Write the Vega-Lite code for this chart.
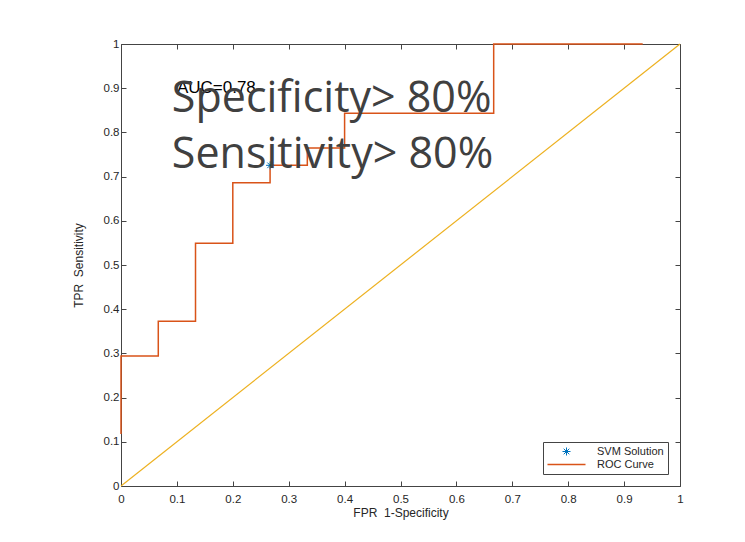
{
  "$schema": "https://vega.github.io/schema/vega-lite/v6.json",
  "width": 559,
  "height": 442,
  "autosize": {"type": "none"},
  "padding": {"left": 121, "top": 44, "right": 65, "bottom": 56},
  "background": "white",
  "config": {
    "view": {"stroke": null},
    "font": "Liberation Sans",
    "axis": {
      "grid": false,
      "domainColor": "#444444",
      "domainWidth": 1,
      "tickColor": "#444444",
      "tickWidth": 1,
      "tickSize": -5,
      "labelFlush": false,
      "labelFont": "Liberation Sans",
      "labelFontSize": 11.5,
      "labelColor": "#262626",
      "titleFont": "Liberation Sans",
      "titleFontSize": 12,
      "titleFontWeight": "normal",
      "titleColor": "#262626"
    }
  },
  "datasets": {
    "roc": [
      {"fpr": 0, "tpr": 0.1176, "k": 0},
      {"fpr": 0, "tpr": 0.2941, "k": 1},
      {"fpr": 0.0667, "tpr": 0.3725, "k": 2},
      {"fpr": 0.1333, "tpr": 0.549, "k": 3},
      {"fpr": 0.2, "tpr": 0.6863, "k": 4},
      {"fpr": 0.2667, "tpr": 0.7255, "k": 5},
      {"fpr": 0.3333, "tpr": 0.7647, "k": 6},
      {"fpr": 0.4, "tpr": 0.8431, "k": 7},
      {"fpr": 0.6667, "tpr": 1, "k": 8},
      {"fpr": 0.9333, "tpr": 1, "k": 9}
    ],
    "diag": [
      {"fpr": 0, "tpr": 0},
      {"fpr": 1, "tpr": 1}
    ],
    "svm": [
      {"fpr": 0.2667, "tpr": 0.7255}
    ],
    "auc": [
      {"fpr": 0.1, "tpr": 0.9, "label": "AUC=0.78"}
    ],
    "big": [
      {"fpr": 0.091, "tpr": 0.846, "label": "Specificity> 80%"},
      {"fpr": 0.091, "tpr": 0.719, "label": "Sensitivity> 80%"}
    ]
  },
  "resolve": {"axis": {"x": "independent", "y": "independent"}},
  "layer": [
    {
      "data": {"name": "diag"},
      "mark": {"type": "line", "color": "#EDB120", "strokeWidth": 1.2},
      "encoding": {
        "x": {"field": "fpr", "type": "quantitative", "scale": {"domain": [0, 1], "nice": false},
          "axis": {"orient": "top", "labels": false, "title": null, "values": [0,0.1,0.2,0.3,0.4,0.5,0.6,0.7,0.8,0.9,1]}},
        "y": {"field": "tpr", "type": "quantitative", "scale": {"domain": [0, 1], "nice": false},
          "axis": {"orient": "right", "labels": false, "title": null, "values": [0,0.1,0.2,0.3,0.4,0.5,0.6,0.7,0.8,0.9,1]}}
      }
    },
    {
      "data": {"name": "roc"},
      "mark": {"type": "line", "interpolate": "step-after", "strokeWidth": 1.5},
      "encoding": {
        "x": {"field": "fpr", "type": "quantitative",
          "axis": {"orient": "bottom", "title": "FPR \u00a01-Specificity", "format": "~g", "labelPadding": 12, "titlePadding": 3, "values": [0,0.1,0.2,0.3,0.4,0.5,0.6,0.7,0.8,0.9,1]}},
        "y": {"field": "tpr", "type": "quantitative",
          "axis": {"orient": "left", "title": "TPR \u00a0Sensitivity", "format": "~g", "labelPadding": 7, "titlePadding": 18, "values": [0,0.1,0.2,0.3,0.4,0.5,0.6,0.7,0.8,0.9,1]}},
        "order": {"field": "k", "type": "quantitative"},
        "color": {"datum": "ROC Curve", "type": "nominal",
          "scale": {"domain": ["SVM Solution", "ROC Curve"], "range": ["#0072BD", "#D95319"]},
          "legend": {
            "title": null,
            "orient": "bottom-right",
            "offset": 12,
            "padding": 4,
            "strokeColor": "#444444",
            "fillColor": "white",
            "labelFont": "Liberation Sans",
            "labelFontSize": 11,
            "labelColor": "#262626",
            "labelOffset": 25,
            "symbolOffset": 14,
            "rowPadding": 0,
            "symbolStrokeWidth": 1.5,
            "encode": {
              "symbols": {
                "update": {
                  "shape": {"signal": "datum.value === 'ROC Curve' ? 'stroke' : 'M0,-1L0,1M-1,0L1,0M-0.7,-0.7L0.7,0.7M-0.7,0.7L0.7,-0.7'"},
                  "size": {"signal": "datum.value === 'ROC Curve' ? 1444 : 64"},
                  "fill": {"value": "transparent"},
                  "strokeWidth": {"signal": "datum.value === 'ROC Curve' ? 1.5 : 1"}
                }
              }
            }
          }
        }
      }
    },
    {
      "data": {"name": "svm"},
      "mark": {"type": "point", "shape": "M0,-1L0,1M-1,0L1,0M-0.7,-0.7L0.7,0.7M-0.7,0.7L0.7,-0.7", "filled": false, "size": 64, "strokeWidth": 1, "opacity": 1},
      "encoding": {
        "x": {"field": "fpr", "type": "quantitative", "axis": null},
        "y": {"field": "tpr", "type": "quantitative", "axis": null},
        "color": {"datum": "SVM Solution", "type": "nominal"}
      }
    },
    {
      "data": {"name": "auc"},
      "mark": {"type": "text", "align": "left", "baseline": "middle", "font": "Liberation Sans", "fontSize": 17, "color": "#000000"},
      "encoding": {
        "x": {"field": "fpr", "type": "quantitative", "axis": null},
        "y": {"field": "tpr", "type": "quantitative", "axis": null},
        "text": {"field": "label"}
      }
    },
    {
      "data": {"name": "big"},
      "mark": {"type": "text", "align": "left", "baseline": "alphabetic", "font": "Open Sans", "fontSize": 43, "color": "#404040"},
      "encoding": {
        "x": {"field": "fpr", "type": "quantitative", "axis": null},
        "y": {"field": "tpr", "type": "quantitative", "axis": null},
        "text": {"field": "label"}
      }
    }
  ]
}
